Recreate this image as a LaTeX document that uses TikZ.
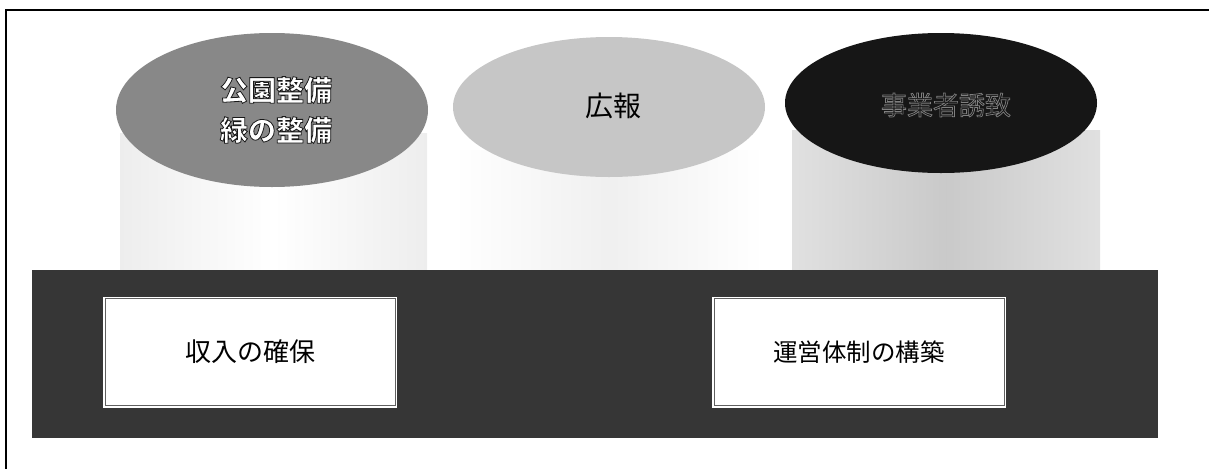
\documentclass[tikz,border=0pt]{standalone}
\usepackage{fontspec}
\newfontfamily\cjk{Noto Sans CJK JP}
\newcommand{\outlinedtext}[3]{\special{pdf:literal 2 Tr #2 w #3 G}#1\special{pdf:literal 0 Tr 0.4 w 0 G}}
\definecolor{bandgray}{HTML}{363636}
\definecolor{ellA}{HTML}{888888}
\definecolor{ellB}{HTML}{C6C6C6}
\definecolor{ellC}{HTML}{161616}
\usetikzlibrary{shapes.geometric}
\tikzset{
  topell/.style={ellipse, minimum width=312pt, minimum height=#1, inner sep=0pt},
  body/.style={draw=none},
  capbox/.style={draw=gray!75!black, line width=1pt, fill=white, minimum width=290pt, minimum height=107pt,
    preaction={draw=white, line width=4pt}, text=black},
  frameline/.style={line width=1.4pt, black}
}
\begin{document}
\begin{tikzpicture}[x=1pt,y=-1pt]
\useasboundingbox (0,0) rectangle (1209,469);
% frame (top and left edges)
\coordinate (fTL) at (6,10);
\coordinate (fTR) at (1209,10);
\coordinate (fBL) at (6,469);
\draw[frameline] (fTR) -- (fTL) -- (fBL);
% cylinder bodies
\shade[body, left color=gray!14, right color=gray!14, middle color=white] (120,133) rectangle (427,272);
\shade[body, left color=white, right color=white, middle color=gray!12] (455,150) rectangle (763,272);
\shade[body, left color=gray!24, right color=gray!24, middle color=gray!42] (792,130) rectangle (1100,272);
% top ellipses
\node[topell=154pt, fill=ellA] (e1) at (272,110) {};
\node[topell=140pt, fill=ellB] (e2) at (609,107) {};
\node[topell=140pt, fill=ellC] (e3) at (941,103) {};
\node[align=center, font=\cjk\bfseries\fontsize{28}{40}\selectfont, text=white] (t1) at (276,110)
  {\outlinedtext{公園整備}{0.8}{0.1}\\\outlinedtext{緑の整備}{0.8}{0.1}};
\node[font=\cjk\fontsize{28}{34}\selectfont, text=black] (t2) at (613,106) {広報};
\node[font=\cjk\fontsize{26}{32}\selectfont, text=ellC] (t3) at (946,105) {\outlinedtext{事業者誘致}{0.7}{0.5}};
% dark band
\node[draw=none, fill=bandgray, minimum width=1126pt, minimum height=168pt, inner sep=0pt] (band) at (595,354) {};
% caption boxes
\node[capbox, font=\cjk\fontsize{26}{30}\selectfont] (b1) at (250,352) {収入の確保};
\node[capbox, font=\cjk\fontsize{24.5}{30}\selectfont] (b2) at (859,352) {運営体制の構築};
\end{tikzpicture}
\end{document}
